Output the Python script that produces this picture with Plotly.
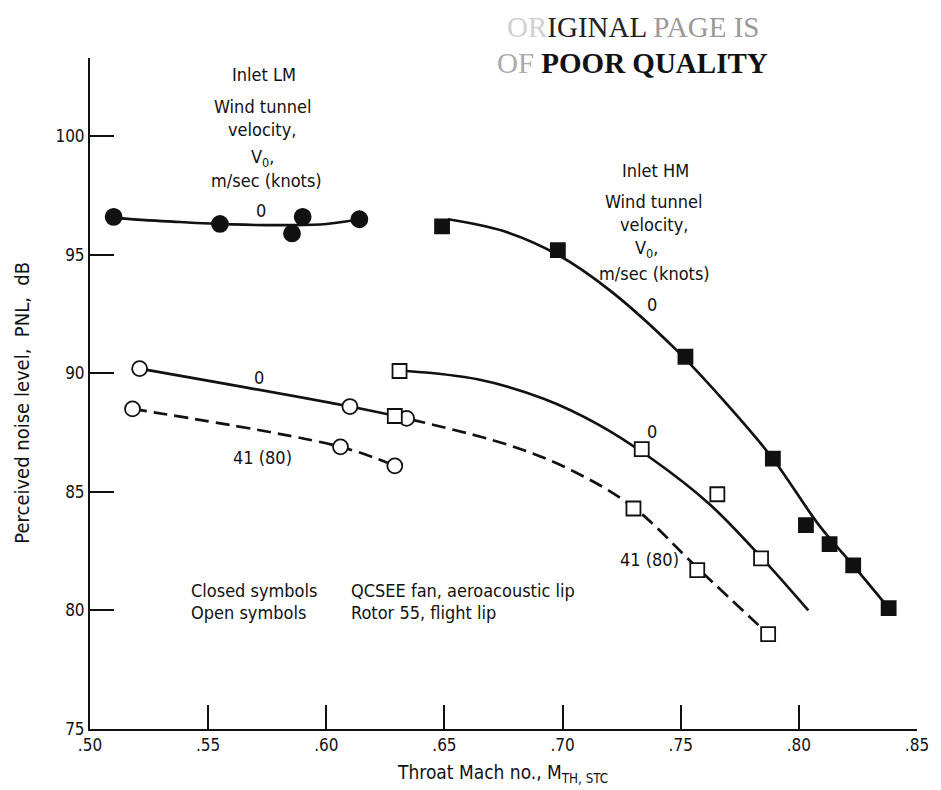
import plotly.graph_objects as go

# ---------------- data ----------------
# Inlet LM, closed symbols (QCSEE fan), V0 = 0
lm_closed_x = [0.510, 0.555, 0.5855, 0.590, 0.614]
lm_closed_y = [96.6, 96.3, 95.9, 96.6, 96.5]
lm_closed_curve_x = [0.511, 0.535, 0.560, 0.585, 0.600, 0.614]
lm_closed_curve_y = [96.55, 96.40, 96.28, 96.25, 96.30, 96.50]

# Inlet LM, open symbols (Rotor 55), V0 = 0 and 41 m/s
lm_open0_x = [0.521, 0.610, 0.634]
lm_open0_y = [90.2, 88.6, 88.1]
lm_open41_x = [0.518, 0.606, 0.629]
lm_open41_y = [88.5, 86.9, 86.1]

# Inlet HM, closed symbols, V0 = 0
hm_closed_x = [0.649, 0.698, 0.752, 0.789, 0.803, 0.813, 0.823, 0.838]
hm_closed_y = [96.2, 95.2, 90.7, 86.4, 83.6, 82.8, 81.9, 80.1]
hm_closed_curve_x = [0.6515, 0.675, 0.698, 0.720, 0.748, 0.770, 0.789, 0.8085, 0.823, 0.838]
hm_closed_curve_y = [96.5, 96.0, 95.0, 93.5, 91.0, 88.65, 86.4, 83.6, 81.9, 80.1]

# Inlet HM, open symbols, V0 = 0
hm_open0_x = [0.631, 0.7335, 0.7655, 0.784]
hm_open0_y = [90.1, 86.8, 84.9, 82.2]
hm_open0_curve_x = [0.634, 0.664, 0.692, 0.715, 0.737, 0.762, 0.784, 0.804]
hm_open0_curve_y = [90.1, 89.75, 88.93, 87.85, 86.45, 84.5, 82.25, 80.0]

# Inlet HM, open symbols, V0 = 41 m/s (80 knots)
hm_open41_x = [0.629, 0.730, 0.757, 0.787]
hm_open41_y = [88.2, 84.3, 81.7, 79.0]
hm_open41_curve_x = [0.636, 0.678, 0.705, 0.730, 0.757, 0.787]
hm_open41_curve_y = [88.05, 86.95, 85.85, 84.35, 81.8, 79.0]

x_tickvals = [0.50, 0.55, 0.60, 0.65, 0.70, 0.75, 0.80, 0.85]
x_ticktext = [".50", ".55", ".60", ".65", ".70", ".75", ".80", ".85"]
y_tickvals = [75, 80, 85, 90, 95, 100]
y_ticktext = ["75", "80", "85", "90", "95", "100"]

# ---------------- styling ----------------
FONT = "DejaVu Sans Condensed, Liberation Sans Narrow, Arial Narrow, sans-serif"
BLACK = "#111111"
LW = 2.7
TS = 18

fig = go.Figure()

def curve(x, y, dash="solid", shape="spline"):
    fig.add_trace(go.Scatter(x=x, y=y, mode="lines", line=dict(color=BLACK, width=LW, dash=dash, shape=shape),
                             hoverinfo="skip", showlegend=False))

def marks(x, y, symbol, filled, size):
    fig.add_trace(go.Scatter(x=x, y=y, mode="markers",
                             marker=dict(symbol=symbol, size=size,
                                         color=BLACK if filled else "white",
                                         line=dict(color=BLACK, width=1.8)),
                             showlegend=False))

curve(lm_closed_curve_x, lm_closed_curve_y)
curve(lm_open0_x, lm_open0_y)
curve(lm_open41_x, lm_open41_y, dash="14px,7px")
curve(hm_closed_curve_x, hm_closed_curve_y)
curve(hm_open0_curve_x, hm_open0_curve_y)
curve(hm_open41_curve_x, hm_open41_curve_y, dash="14px,7px")

marks(lm_closed_x, lm_closed_y, "circle", True, 16)
marks(lm_open0_x, lm_open0_y, "circle", False, 15)
marks(lm_open41_x, lm_open41_y, "circle", False, 15)
marks(hm_closed_x, hm_closed_y, "square", True, 14)
marks(hm_open0_x, hm_open0_y, "square", False, 14)
marks(hm_open41_x, hm_open41_y, "square", False, 14)

ann = []
def txt(x, y, s, size=TS, xanchor="center", xref="x", yref="y", **kw):
    ann.append(dict(x=x, y=y, xref=xref, yref=yref, text=s, showarrow=False,
                    xanchor=xanchor, yanchor="middle",
                    font=dict(family=FONT, size=size, color=BLACK), **kw))

# Inlet LM legend block
txt(0.5736, 102.6, "Inlet LM")
txt(0.5728, 101.25, "Wind tunnel")
txt(0.5728, 100.3, "velocity,")
txt(0.5728, 99.1, "V<sub>0</sub>,")
txt(0.5745, 98.15, "m/sec (knots)")
txt(0.5724, 96.85, "0")
txt(0.5715, 89.82, "0")
txt(0.5728, 86.44, "41 (80)")

# Inlet HM legend block
txt(0.7394, 98.56, "Inlet HM")
txt(0.7385, 97.25, "Wind tunnel")
txt(0.7385, 96.28, "velocity,")
txt(0.7356, 95.25, "V<sub>0</sub>,")
txt(0.7390, 94.22, "m/sec (knots)")
txt(0.7377, 92.9, "0")
txt(0.7377, 87.54, "0")
txt(0.7369, 82.14, "41 (80)")

# symbol key
txt(0.5421, 80.83, "Closed symbols", xanchor="left")
txt(0.6094, 80.83, "QCSEE fan, aeroacoustic lip", xanchor="left")
txt(0.5421, 79.9, "Open symbols", xanchor="left")
txt(0.6094, 79.9, "Rotor 55, flight lip", xanchor="left")

# axis titles
txt(0.499, -0.066, "Throat Mach no., M<sub>TH, STC</sub>", size=19, xref="paper", yref="paper")
txt(-0.0817, 0.487, "Perceived noise level,&nbsp; PNL,&nbsp; dB", size=20, xref="paper", yref="paper", textangle=-90)

# stamp
STAMP = "Liberation Serif, DejaVu Serif, serif"
ann.append(dict(x=0.656, y=1.046, xref="paper", yref="paper", showarrow=False,
                text="<span style='color:#d0d0d0'>OR</span>IGINAL <span style='color:#9a9a9a'>PAGE IS</span>",
                font=dict(family=STAMP, size=29, color="#222222"),
                xanchor="center", yanchor="middle"))
ann.append(dict(x=0.656, y=0.9925, xref="paper", yref="paper", showarrow=False,
                text="<span style='color:#aaaaaa'>OF</span> <b>POOR QUALITY</b>",
                font=dict(family=STAMP, size=29, color="#111111"),
                xanchor="center", yanchor="middle"))

# The page body has an 8 px margin, so the figure is sized to fit inside the window
fig.update_layout(
    width=933, height=782,
    margin=dict(l=82, r=19, t=50, b=61),
    paper_bgcolor="white", plot_bgcolor="white",
    annotations=ann,
    showlegend=False,
    xaxis=dict(range=[0.50, 0.85], tickvals=x_tickvals, ticktext=x_ticktext,
               showgrid=False, zeroline=False, showline=True, linecolor=BLACK, linewidth=2,
               ticks="inside", ticklen=24, tickwidth=1.5, tickcolor=BLACK,
               tickfont=dict(family=FONT, size=17, color=BLACK)),
    yaxis=dict(range=[75, 103.3], tickvals=y_tickvals, ticktext=y_ticktext,
               showgrid=False, zeroline=False, showline=True, linecolor=BLACK, linewidth=2,
               ticks="inside", ticklen=24, tickwidth=1.5, tickcolor=BLACK,
               tickfont=dict(family=FONT, size=17, color=BLACK)),
)

fig.write_html("out.html")
